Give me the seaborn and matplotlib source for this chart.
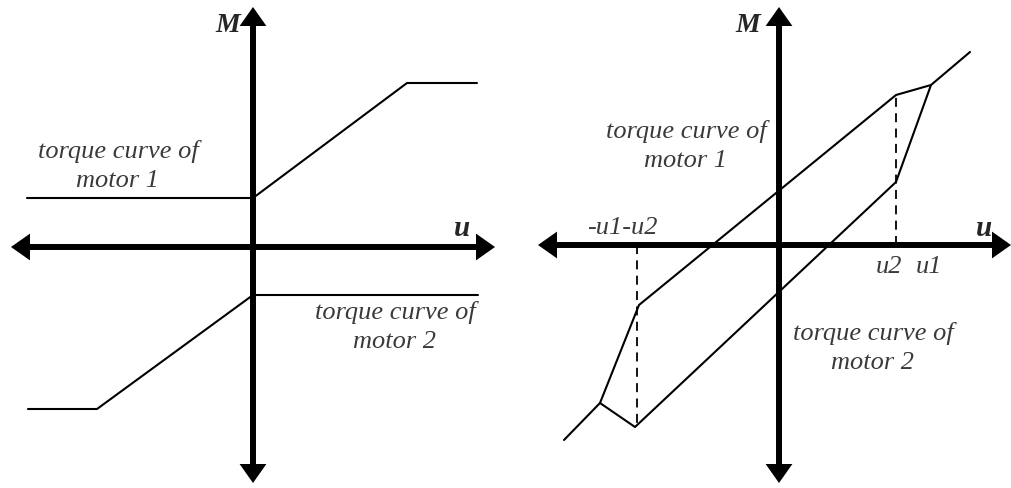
import matplotlib
matplotlib.use('Agg')
import matplotlib.pyplot as plt
import pandas as pd
import seaborn as sns

# --- data (units, origin at the axes crossing) ---
# left panel: two saturating torque curves
m1_u = [-226, 0, 154, 224]
m1_M = [49, 49, 164, 164]
m2_u = [-225, -156, 0, 225]
m2_M = [-162, -162, -48, -48]

# right panel: combined curves with hysteresis-like loop
upper_u = [-215, -179, -140, 117, 152, 191]
upper_M = [-195, -158, -60, 150, 160, 193]
lower_u = [-179, -144, 117, 152]
lower_M = [-158, -182, 63, 160]

# dashed guides (u position, M end)
guide_u = [117, -142]
guide_M = [150, -182]

# axis arrow extents: (u_min, u_max, M_min, M_max)
left_axes_ext = (-242, 242, -236, 240)
right_axes_ext = (-241, 232, -238, 238)

sns.set_style('white')
plt.rcParams['font.family'] = ['Liberation Serif', 'DejaVu Serif']

fig = plt.figure(figsize=(10.12, 4.88), dpi=100)
ax_l = fig.add_axes([0, 0, 0.5, 1])
ax_r = fig.add_axes([0.5, 0, 0.5, 1])

LW = 1.5
TXT = '#3a3a3a'
FS = 19
LS = 1.45


def draw_axes(ax, ext):
    """Thick double-headed arrows for the u and M axes."""
    u0, u1, m0, m1 = ext
    style = matplotlib.patches.ArrowStyle('<|-|>', head_length=0.78, head_width=0.55)
    kw = dict(arrowstyle=style, lw=4.3, color='black', mutation_scale=10,
              shrinkA=0, shrinkB=0, joinstyle='miter', capstyle='butt')
    ax.annotate('', xy=(u1, 0), xytext=(u0, 0), arrowprops=kw, zorder=5)
    ax.annotate('', xy=(0, m1), xytext=(0, m0), arrowprops=kw, zorder=5)


def draw_curve(ax, u, M, **kw):
    df = pd.DataFrame({'u': u, 'M': M})
    sns.lineplot(data=df, x='u', y='M', sort=False, estimator=None,
                 color='black', lw=LW, ax=ax, **kw)


def label(ax, x, y, s):
    ax.text(x, y, s, fontsize=FS, style='italic', color=TXT,
            ha='center', va='center', linespacing=LS)


# ---- left panel ----
draw_curve(ax_l, m1_u, m1_M)
draw_curve(ax_l, m2_u, m2_M)
draw_axes(ax_l, left_axes_ext)
ax_l.set_xlim(-253, 253)
ax_l.set_ylim(-241, 247)

ax_l.text(-25, 222, 'M', fontsize=20, fontweight='bold', style='italic',
          ha='center', va='center')
ax_l.text(209, 19, 'u', fontsize=21, fontweight='bold', style='italic',
          ha='center', va='center')
label(ax_l, -135, 81, 'torque curve of\nmotor 1')
label(ax_l, 142, -80, 'torque curve of\nmotor 2')

# ---- right panel ----
draw_curve(ax_r, upper_u, upper_M)
draw_curve(ax_r, lower_u, lower_M)
for gu, gm in zip(guide_u, guide_M):
    ax_r.plot([gu, gu], [0, gm], ls=(0, (5, 3.5)), color='black', lw=1.3)
draw_axes(ax_r, right_axes_ext)
ax_r.set_xlim(-273, 233)
ax_r.set_ylim(-243, 245)

ax_r.text(-31, 220, 'M', fontsize=20, fontweight='bold', style='italic',
          ha='center', va='center')
ax_r.text(205, 17, 'u', fontsize=21, fontweight='bold', style='italic',
          ha='center', va='center')
label(ax_r, -157, 17, '-u1-u2')
label(ax_r, 110, -22, 'u2')
label(ax_r, 150, -22, 'u1')
label(ax_r, -93, 99, 'torque curve of\nmotor 1')
label(ax_r, 94, -103, 'torque curve of\nmotor 2')

for ax in (ax_l, ax_r):
    ax.set_axis_off()

fig.savefig('out.png', dpi=100)
plt.close(fig)
